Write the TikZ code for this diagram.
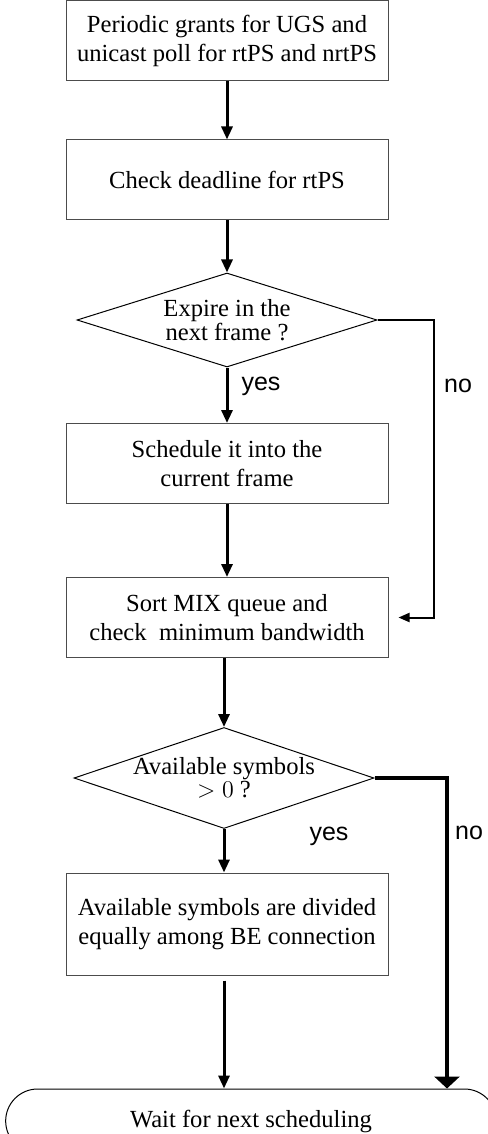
\documentclass[tikz,border=0pt]{standalone}
\usepackage{fontspec}
\setmainfont{Liberation Serif}
\newfontfamily\labelfont{Liberation Sans}
\usepackage{tikz}
\usepackage{xcolor}
\usetikzlibrary{shapes.geometric,shapes.misc,arrows.meta}

\begin{document}
\begin{tikzpicture}[x=0.5pt, y=-0.5pt,
    box/.style = {shape=rectangle, draw=black!70, line width=0.5pt,
      align=center, minimum width=161pt, minimum height=40pt,
      font=\fontsize{12.3}{14.5}\selectfont},
    decision/.style = {shape=diamond, draw, line width=0.5pt,
      align=center, inner sep=-40pt, minimum width=150pt,
      font=\fontsize{12.3}{11.5}\selectfont},
    terminal/.style = {shape=rounded rectangle, draw, line width=0.5pt,
      minimum width=252pt, minimum height=32pt,
      font=\fontsize{12.3}{14.5}\selectfont},
    answer/.style = {font=\labelfont\fontsize{12.5}{14}\selectfont},
    flow/.style = {line width=1.5pt, -{Triangle[length=6.5pt,width=5.5pt]}},
    skip/.style = {line width=1pt, -{Triangle[length=5.5pt,width=4.5pt]}},
    bigskip/.style = {line width=2pt, -{Triangle[length=6pt,width=12.5pt]}}]
    \useasboundingbox (0,0) rectangle (487,1134);

    \node[box] (grants) at (227,40.5) {Periodic grants for UGS and\\unicast poll for rtPS and nrtPS};
    \node[box] (deadline) at (227,180) {Check deadline for rtPS};
    \node[decision, minimum height=47pt, font=\fontsize{12.3}{12}\selectfont]
        (expire) at (227,320) {Expire in the\\next frame ?};
    \node[box] (schedule) at (227,463.5) {Schedule it into the\\current frame};
    \node[box] (sortmix) at (227,617.5) {Sort MIX queue and\\check~~minimum bandwidth};
    \node[decision, minimum height=50.5pt] (avail) at (224,778) {Available symbols\\$>0$ ?};
    \node[box, minimum height=51pt] (divide) at (227,924) {Available symbols are divided\\equally among BE connection};
    \node[terminal] (wait) at (251,1121) {Wait for next scheduling};

    \node[answer] (yes1) at (261,386) {yes};
    \node[answer] (no1) at (458,386) {no};
    \node[answer] (yes2) at (329,836) {yes};
    \node[answer] (no2) at (469,833) {no};

    \coordinate (bend1) at (434,470);
    \coordinate (bend2) at (447,900);

    \draw[flow] (grants) -- (deadline);
    \draw[flow] (deadline) -- (expire);
    \draw[flow] (expire) -- (schedule);
    \draw[flow] (schedule) -- (sortmix);
    \draw[flow] (sortmix.south -| avail.north) -- (avail);
    \draw[flow] (avail.south) -- (divide.north -| avail.south);
    \draw[flow, shorten <=2.5pt] (divide.south -| avail.south) -- (wait.north -| avail.south);
    \draw[skip, shorten >=5pt] (expire.east) -| (bend1) |- (sortmix.east);
    \draw[bigskip] (avail.east) -| (bend2) -- (bend2 |- wait.north);
\end{tikzpicture}
\end{document}
